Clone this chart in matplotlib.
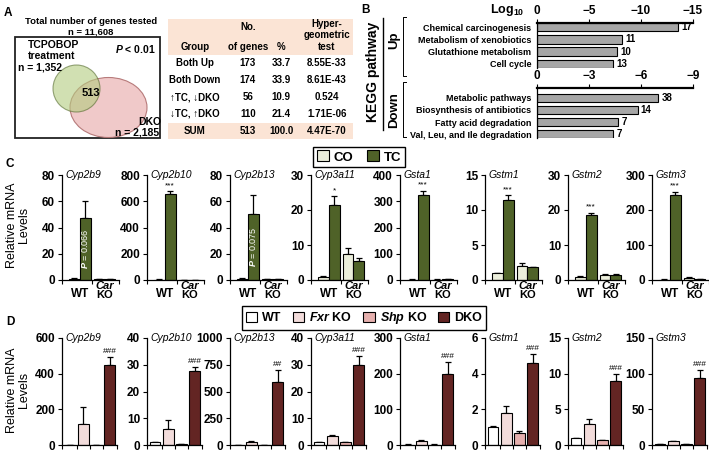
import matplotlib
matplotlib.use('Agg')
import matplotlib.pyplot as plt
import matplotlib.transforms as mtrans
from matplotlib.patches import Rectangle, Ellipse, Circle, Patch
import numpy as np

plt.rcParams['font.family'] = ['Liberation Sans', 'DejaVu Sans']
plt.rcParams['font.weight'] = 'bold'
plt.rcParams['mathtext.fontset'] = 'custom'
plt.rcParams['mathtext.it'] = 'Liberation Sans:italic:bold'
plt.rcParams['mathtext.rm'] = 'Liberation Sans:bold'
plt.rcParams['mathtext.bf'] = 'Liberation Sans:bold'
plt.rcParams['axes.linewidth'] = 0.9

W, H = 709, 451

# ---------------- data ----------------
# panel A
n_total = '11,608'
n_tc = '1,352'
n_dko = '2,185'
n_overlap = 513
tbl_groups = ['Both Up', 'Both Down', '\u2191TC, \u2193DKO', '\u2193TC, \u2191DKO', 'SUM']
tbl_n = [173, 174, 56, 110, 513]
tbl_pct = ['33.7', '33.9', '10.9', '21.4', '100.0']
tbl_hyper = ['8.55E-33', '8.61E-43', '0.524', '1.71E-06', '4.47E-70']

# panel B (-log10 P, gene counts)
up_terms = ['Chemical carcinogenesis', 'Metabolism of xenobiotics',
            'Glutathione metabolism', 'Cell cycle']
up_log = [13.6, 8.2, 7.7, 7.3]
up_counts = [17, 11, 10, 13]
down_terms = ['Metabolic pathways', 'Biosynthesis of antibiotics',
              'Fatty acid degradation', 'Val, Leu, and Ile degradation']
down_log = [7.0, 5.8, 4.7, 4.4]
down_counts = [38, 14, 7, 7]

# panel C: CO / TC in WT and Car KO
genes = ['Cyp2b9', 'Cyp2b10', 'Cyp2b13', 'Cyp3a11', 'Gsta1', 'Gstm1', 'Gstm2', 'Gstm3']
c_ymax = [80, 800, 80, 30, 400, 15, 30, 300]
c_step = [20, 200, 20, 10, 100, 5, 10, 100]
c_co_wt = [1, 1, 1, 1, 1, 1, 1, 1]
c_tc_wt = [47, 655, 50, 21.5, 325, 11.5, 18.5, 243]
c_co_ko = [0.5, 1, 0.5, 7.5, 1, 2.0, 1.5, 5]
c_tc_ko = [0.5, 1, 0.5, 5.5, 2, 1.8, 1.5, 2]
c_err_co_wt = [0.2, 3, 0.2, 0.1, 2, 0.05, 0.1, 1]
c_err_tc_wt = [13, 20, 15, 2.5, 15, 0.6, 0.7, 9]
c_err_co_ko = [0.1, 2, 0.1, 1.7, 1, 0.4, 0.2, 3]
c_err_tc_ko = [0.1, 2, 0.1, 0.7, 1, 0.1, 0.2, 0.5]
c_sig = ['P = 0.066', '***', 'P = 0.075', '*', '***', '***', '***', '***']

# panel D: WT / Fxr KO / Shp KO / DKO
d_ymax = [600, 40, 1000, 40, 300, 6, 15, 150]
d_step = [200, 10, 250, 10, 100, 2, 5, 50]
d_wt = [1, 1, 1, 1, 1, 1.0, 1.0, 1]
d_fxr = [115, 6, 25, 3.5, 10, 1.8, 3.0, 5]
d_shp = [1, 0.3, 1, 1, 1, 0.7, 0.7, 1]
d_dko = [450, 27.5, 590, 30, 200, 4.6, 9.0, 94]
d_err_wt = [1, 0.1, 1, 0.1, 1, 0.05, 0.05, 0.3]
d_err_fxr = [98, 3.5, 12, 0.3, 3, 0.4, 0.7, 1]
d_err_shp = [0.5, 0.1, 1, 0.1, 0.5, 0.1, 0.05, 0.2]
d_err_dko = [45, 1.5, 110, 3.3, 33, 0.5, 1.0, 11]
d_sig = ['###', '###', '##', '###', '###', '###', '###', '###']

# colours
co_col = '#ebeedb'
tc_col = '#4f6228'
d_cols = ['#ffffff', '#f2dcdb', '#e6b0ae', '#632523']
peach = '#fbe4d5'

fig = plt.figure(figsize=(W / 100, H / 100), dpi=100)

# overlay in pixel coords for free-drawn parts
ov = fig.add_axes([0, 0, 1, 1])
ov.set_xlim(0, W)
ov.set_ylim(H, 0)
ov.axis('off')


def px_axes(x0, y0, w, h):
    return fig.add_axes([x0 / W, 1 - (y0 + h) / H, w / W, h / H])


# ---------------- panel A ----------------
ov.text(8, 13, 'A', fontsize=8.5, ha='center', va='center')
ov.text(91, 21, 'Total number of genes tested', fontsize=6.8, ha='center', va='center')
ov.text(91, 32, 'n = ' + n_total, fontsize=6.8, ha='center', va='center')
ov.add_patch(Rectangle((15, 37), 145, 101, fill=False, lw=1.3, ec='#222222'))
ov.add_patch(Ellipse((108.5, 107.5), 77, 60, fc='#efc3c3', ec='#b07070', lw=0.8, alpha=0.9))
ov.add_patch(Circle((76.5, 88.5), 23.5, fc='#b3cc7f', ec='#556b2f', lw=0.8, alpha=0.6))
ov.text(91, 93, str(n_overlap), fontsize=8, ha='center', va='center')
ov.text(28, 45, 'TCPOBOP', fontsize=7.5, ha='left', va='center')
ov.text(28, 56, 'treatment', fontsize=7.5, ha='left', va='center')
ov.text(18, 67, 'n = ' + n_tc, fontsize=7.5, ha='left', va='center')
ov.text(156, 49, r'$\it{P}$ < 0.01', fontsize=7.5, ha='right', va='center')
ov.text(150, 122, 'DKO', fontsize=7.5, ha='center', va='center')
ov.text(159, 132.5, 'n = ' + n_dko, fontsize=7.5, ha='right', va='center')

# table
ov.add_patch(Rectangle((168, 19), 185, 36, fc=peach, ec='none'))
ov.add_patch(Rectangle((168, 123), 185, 16, fc=peach, ec='none'))
col_x = [195, 248, 281, 327]
ov.text(col_x[0], 47, 'Group', fontsize=7, ha='center', va='center')
ov.text(col_x[1], 27, 'No.', fontsize=7, ha='center', va='center')
ov.text(col_x[1], 47, 'of genes', fontsize=7, ha='center', va='center')
ov.text(col_x[2], 47, '%', fontsize=7, ha='center', va='center')
ov.text(col_x[3], 24, 'Hyper-', fontsize=7, ha='center', va='center')
ov.text(col_x[3], 35, 'geometric', fontsize=7, ha='center', va='center')
ov.text(col_x[3], 47, 'test', fontsize=7, ha='center', va='center')
row_y = [63, 80, 97, 114, 131]
for i, y in enumerate(row_y):
    ov.text(col_x[0], y, tbl_groups[i], fontsize=7, ha='center', va='center')
    ov.text(col_x[1], y, str(tbl_n[i]), fontsize=7, ha='center', va='center')
    ov.text(col_x[2], y, tbl_pct[i], fontsize=7, ha='center', va='center')
    ov.text(col_x[3], y, tbl_hyper[i], fontsize=7, ha='center', va='center')

# ---------------- panel B ----------------
ov.text(366, 10, 'B', fontsize=8.5, ha='center', va='center')
ov.text(373, 72, 'KEGG pathway', fontsize=10, rotation=90, ha='center', va='center')
ov.plot([383, 383], [18, 130], color='k', lw=1)
ov.text(394, 40, 'Up', fontsize=9.5, rotation=90, ha='center', va='center')
ov.text(394, 110, 'Down', fontsize=9.5, rotation=90, ha='center', va='center')
for y0, y1 in [(17, 76), (82, 137)]:
    ov.plot([406, 403, 403, 406], [y0, y0, y1, y1], color='k', lw=0.7)
ov.text(507, 10, r'Log$_{10}$', fontsize=9, ha='center', va='center')


def kegg_axes(ax, terms, vals, counts, xmax, step, top):
    y = np.arange(len(terms))
    ax.barh(y, vals, height=0.72, color='#a6a6a6', edgecolor='k', lw=0.8, align='center')
    ax.set_xlim(0, xmax)
    ax.set_ylim(3.33, top)
    ax.xaxis.tick_top()
    ticks = np.arange(0, xmax + 0.1, step)
    ax.set_xticks(ticks)
    ax.set_xticklabels(['0'] + ['\u2212%d' % t for t in ticks[1:]])
    ax.tick_params(axis='x', direction='out', length=3, labelsize=8.5, pad=1)
    ax.set_yticks(y)
    ax.set_yticklabels(terms, fontsize=6.5)
    ax.tick_params(axis='y', length=0, pad=4)
    for s in ['right', 'bottom']:
        ax.spines[s].set_visible(False)
    ax.spines['top'].set_linewidth(1.6)
    for yi, v, c in zip(y, vals, counts):
        ax.text(v + xmax * 0.02, yi, str(c), fontsize=7, va='center', ha='left')
    ax.patch.set_alpha(0)


axu = px_axes(537, 23, 156, 45)
kegg_axes(axu, up_terms, up_log, up_counts, 15, 5, -0.33)
axd = px_axes(537, 88, 156, 50)
kegg_axes(axd, down_terms, down_log, down_counts, 9, 3, -0.83)

# ---------------- panels C and D ----------------
axis_x = [62, 147, 230, 311, 400, 485, 568, 652]


def style_bar_axes(ax, ymax, step, gene):
    ax.set_ylim(0, ymax)
    ax.set_yticks(np.arange(0, ymax + step / 2, step))
    ax.tick_params(axis='y', direction='out', length=3, labelsize=8.5, pad=2)
    ax.tick_params(axis='x', direction='out', length=3, labelbottom=False)
    for s in ['top', 'right']:
        ax.spines[s].set_visible(False)
    ax.text(0.06, 1.0, gene, transform=ax.transAxes, fontsize=7.5, style='italic',
            weight='normal', ha='left', va='center')
    ax.patch.set_alpha(0)


ov.text(10, 164, 'C', fontsize=8.5, ha='center', va='center')
ov.text(18, 225, 'Relative mRNA\nLevels', fontsize=9, rotation=90, ha='center',
        va='center', weight='normal', linespacing=1.1)
c_pos = np.array([1.15, 2.15, 3.45, 4.45])
for i, g in enumerate(genes):
    ax = px_axes(axis_x[i], 175, 57, 105)
    vals = [c_co_wt[i], c_tc_wt[i], c_co_ko[i], c_tc_ko[i]]
    errs = [c_err_co_wt[i], c_err_tc_wt[i], c_err_co_ko[i], c_err_tc_ko[i]]
    ax.bar(c_pos, vals, width=1.0, color=[co_col, tc_col, co_col, tc_col],
           edgecolor='k', lw=0.8, zorder=2)
    ax.errorbar(c_pos, vals, yerr=[np.zeros(4), errs], fmt='none', ecolor='k',
                elinewidth=0.9, capsize=2.5, capthick=0.9, zorder=1)
    ax.set_xlim(0, 5.3)
    ax.set_xticks([0, 2.8, 5.3])
    style_bar_axes(ax, c_ymax[i], c_step[i], g)
    tr = mtrans.blended_transform_factory(ax.transData, ax.transAxes)
    ax.text(1.65, -0.075, 'WT', transform=tr, fontsize=8.5, ha='center', va='top')
    ax.text(3.95, -0.005, 'Car', transform=tr, fontsize=8, ha='center', va='top',
            style='italic', linespacing=1.0)
    ax.text(3.95, 0.02 - 0.215, 'KO', transform=tr, fontsize=8, ha='center', va='bottom')
    sig = c_sig[i]
    if sig.startswith('P'):
        ax.text(c_pos[1], c_tc_wt[i] / 2, r'$\it{P}$' + sig[1:], color='white', fontsize=6.5,
                rotation=90, ha='center', va='center', weight='normal')
    else:
        ax.text(c_pos[1], c_tc_wt[i] + c_err_tc_wt[i] + c_ymax[i] * 0.02, sig,
                fontsize=6, ha='center', va='bottom', weight='normal')

fig.legend(handles=[Patch(fc=co_col, ec='k', lw=0.8), Patch(fc=tc_col, ec='k', lw=0.8)],
           labels=['CO', 'TC'], ncol=2, loc='center', bbox_to_anchor=(359 / W, 1 - 157 / H),
           fancybox=False, edgecolor='k', framealpha=1, fontsize=9.5, handlelength=0.9,
           handleheight=0.9, handletextpad=0.4, columnspacing=1.0, borderpad=0.3)

ov.text(10, 322, 'D', fontsize=8.5, ha='center', va='center')
ov.text(18, 390, 'Relative mRNA\nLevels', fontsize=9, rotation=90, ha='center',
        va='center', weight='normal', linespacing=1.1)
d_pos = np.array([0.65, 1.7, 2.75, 3.8])
for i, g in enumerate(genes):
    ax = px_axes(axis_x[i], 338, 55, 107)
    vals = [d_wt[i], d_fxr[i], d_shp[i], d_dko[i]]
    errs = [d_err_wt[i], d_err_fxr[i], d_err_shp[i], d_err_dko[i]]
    ax.bar(d_pos, vals, width=0.85, color=d_cols, edgecolor='k', lw=0.8, zorder=2)
    ax.errorbar(d_pos, vals, yerr=[np.zeros(4), errs], fmt='none', ecolor='k',
                elinewidth=0.9, capsize=2.5, capthick=0.9, zorder=1)
    ax.set_xlim(0, 4.4)
    ax.set_xticks([0, 1.175, 2.225, 3.275, 4.4])
    style_bar_axes(ax, d_ymax[i], d_step[i], g)
    ax.text(d_pos[3], d_dko[i] + d_err_dko[i] + d_ymax[i] * 0.02, d_sig[i],
            fontsize=6, ha='center', va='bottom', weight='normal')

fig.legend(handles=[Patch(fc=c, ec='k', lw=0.8) for c in d_cols],
           labels=['WT', r'$\it{Fxr}$ KO', r'$\it{Shp}$ KO', 'DKO'], ncol=4, loc='center',
           bbox_to_anchor=(364 / W, 1 - 318 / H), fancybox=False, edgecolor='k',
           framealpha=1, fontsize=9, handlelength=0.9, handleheight=0.9,
           handletextpad=0.4, columnspacing=0.9, borderpad=0.3)

fig.savefig('out.png', dpi=100)
